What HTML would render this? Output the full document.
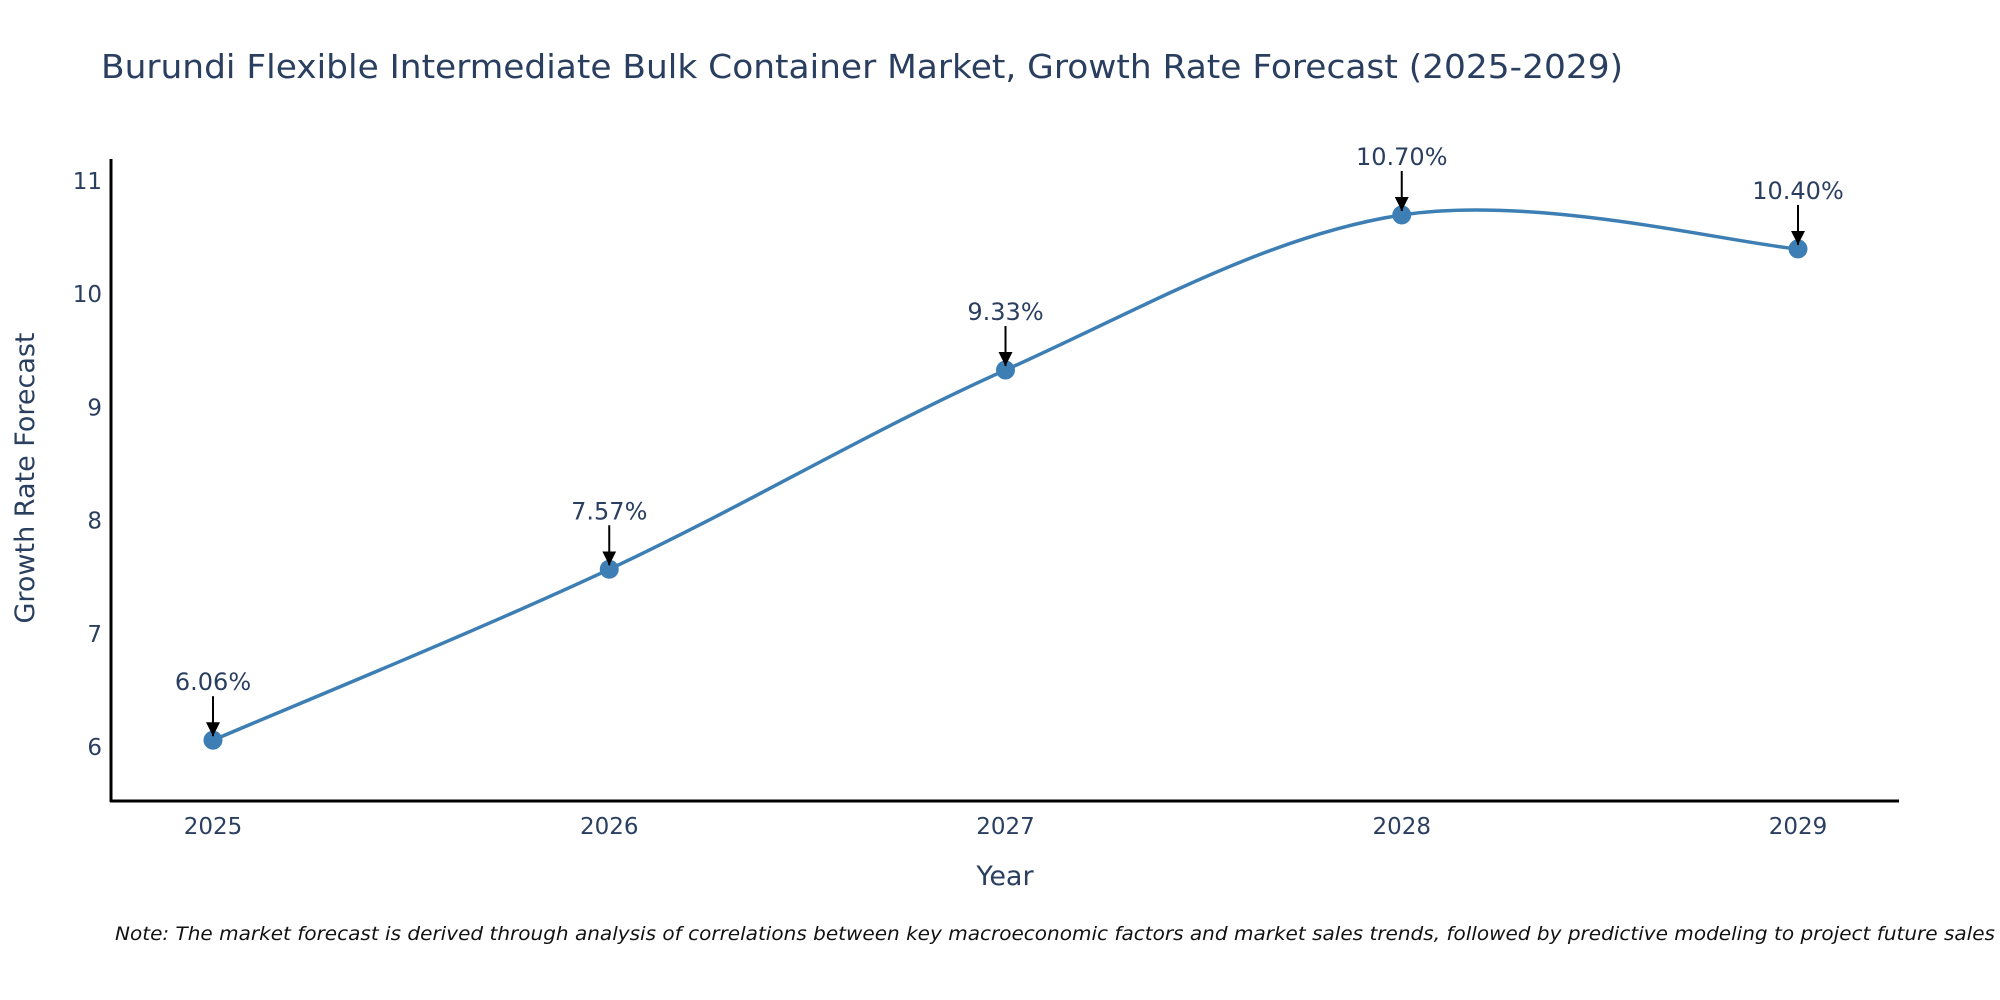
<!DOCTYPE html>
<html><head><meta charset="utf-8"><style>
html,body{margin:0;padding:0;background:#fff;}
svg{display:block;font-family:"DejaVu Sans","Liberation Sans",sans-serif;}
</style></head><body>
<svg id="chart" width="2000" height="1000" viewBox="0 0 2000 1000">
<defs><marker id="ah" viewBox="0 0 10 10" refX="10" refY="5" markerWidth="7" markerHeight="7" orient="auto"><path d="M0,0 L10,5 L0,10 Z" fill="#000"/></marker></defs>
<text x="101" y="78" font-size="33" fill="#2a3f5f" textLength="1522" lengthAdjust="spacingAndGlyphs">Burundi Flexible Intermediate Bulk Container Market, Growth Rate Forecast (2025-2029)</text>
<g id="plot"></g>
<line x1="111" y1="159" x2="111" y2="802" stroke="#000" stroke-width="3"/>
<line x1="110" y1="801" x2="1899" y2="801" stroke="#000" stroke-width="3"/>
<text x="1005" y="885" font-size="27" fill="#2a3f5f" text-anchor="middle">Year</text>
<text transform="translate(34,478) rotate(-90)" font-size="27" fill="#2a3f5f" text-anchor="middle">Growth Rate Forecast</text>
<text x="115" y="940" font-size="19" font-style="italic" fill="#111" textLength="1880" lengthAdjust="spacingAndGlyphs">Note: The market forecast is derived through analysis of correlations between key macroeconomic factors and market sales trends, followed by predictive modeling to project future sales</text>
</svg>
<script>
const years = [2025, 2026, 2027, 2028, 2029];
const growth = [6.06, 7.57, 9.33, 10.70, 10.40];
const labels = ["6.06%", "7.57%", "9.33%", "10.70%", "10.40%"];
const yTicks = [6, 7, 8, 9, 10, 11];
const NS = "http://www.w3.org/2000/svg";
const g = document.getElementById('plot');
function xs(v){ return 213 + (v - 2025) * 396.25; }
function ys(v){ return 747 - (v - 6) * 113.2; }
function mk(tag, attrs){ const e = document.createElementNS(NS, tag); for (const k in attrs) e.setAttribute(k, attrs[k]); g.appendChild(e); return e; }
yTicks.forEach(t => {
  const e = mk('text', {x: 102, y: ys(t) + 8, 'font-size': 23, fill: '#2a3f5f', 'text-anchor': 'end'});
  
  
  e.textContent = t;
});
years.forEach(y => {
  const e = mk('text', {x: xs(y), y: 834, 'font-size': 23, fill: '#2a3f5f', 'text-anchor': 'middle'});
  
  
  e.textContent = y;
});
const pts = years.map((y, i) => [xs(y), ys(growth[i])]);
let d = 'M' + pts[0][0] + ',' + pts[0][1];
const tt = 0.17;
for (let i = 0; i < pts.length - 1; i++) {
  const p0 = pts[Math.max(0, i - 1)], p1 = pts[i], p2 = pts[i + 1], p3 = pts[Math.min(pts.length - 1, i + 2)];
  const c1 = [p1[0] + (p2[0] - p0[0]) * tt, p1[1] + (p2[1] - p0[1]) * tt];
  const c2 = [p2[0] - (p3[0] - p1[0]) * tt, p2[1] - (p3[1] - p1[1]) * tt];
  d += ' C' + c1 + ' ' + c2 + ' ' + p2;
}
const line = mk('path', {d: d, fill: 'none', stroke: '#3d7fb4', 'stroke-width': 3.5});


pts.forEach((p, i) => {
  const c = mk('circle', {cx: p[0], cy: p[1], r: 9.5, fill: '#3d7fb4'});
  
  
  const a = mk('line', {x1: p[0], y1: p[1] - 44, x2: p[0], y2: p[1] - 4, stroke: '#000', 'stroke-width': 2, 'marker-end': 'url(#ah)'});
  
  
  const t = mk('text', {x: p[0], y: p[1] - 50, 'font-size': 24, fill: '#2a3f5f', 'text-anchor': 'middle'});
  
  
  t.textContent = labels[i];
});
</script>
</body></html>
